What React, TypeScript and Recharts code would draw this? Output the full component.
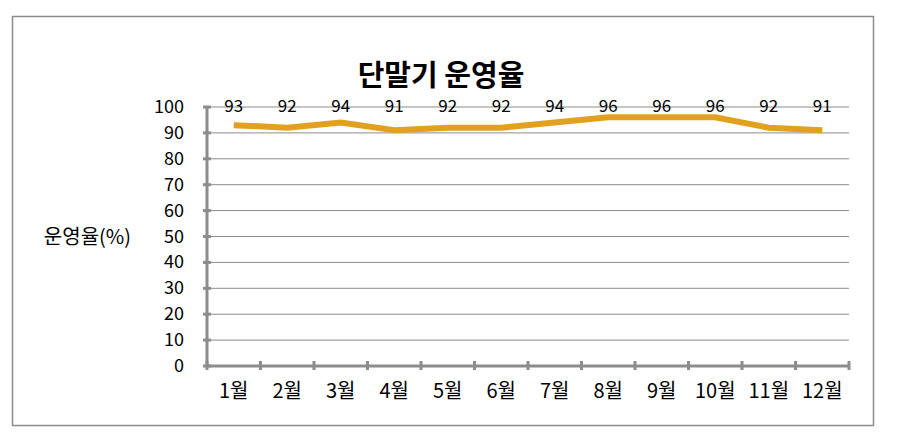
import { LineChart, Line, XAxis, YAxis, CartesianGrid, LabelList } from 'recharts';

const months = ['1월', '2월', '3월', '4월', '5월', '6월', '7월', '8월', '9월', '10월', '11월', '12월'];
const rates = [93, 92, 94, 91, 92, 92, 94, 96, 96, 96, 92, 91];
const yTicks = [0, 10, 20, 30, 40, 50, 60, 70, 80, 90, 100];

const title = '단말기 운영율';
const yLabel = '운영율(%)';

const W = 905;
const H = 432;
const margin = { top: 107, right: 56, bottom: 36, left: 147 };
const yAxisWidth = 60;
const xAxisHeight = 30;
const plotLeft = margin.left + yAxisWidth;
const plotRight = W - margin.right;
const band = (plotRight - plotLeft) / months.length;

const font = '"Noto Sans CJK KR", "Noto Sans", sans-serif';
const axisGray = '#8c8c8c';
const lineColor = '#E1A11F';

const chartData = months.map((m, i) => ({ month: m, rate: rates[i] }));

const XTick = (props: any) => {
  const { x, y, payload, index } = props;
  const left = x - band / 2;
  return (
    <g>
      <line x1={left} x2={left} y1={y - 5} y2={y + 4} stroke={axisGray} strokeWidth={3} />
      {index === months.length - 1 && (
        <line x1={x + band / 2} x2={x + band / 2} y1={y - 5} y2={y + 4} stroke={axisGray} strokeWidth={3} />
      )}
      <text x={x} y={y + 32} textAnchor="middle" fontSize={20} fill="#000" fontFamily={font}>
        {payload.value}
      </text>
    </g>
  );
};

const YTick = (props: any) => {
  const { x, y, payload } = props;
  return (
    <g>
      <line x1={x - 4} x2={x + 4} y1={y} y2={y} stroke={axisGray} strokeWidth={3} />
      <text x={x - 23} y={y + 6} textAnchor="end" fontSize={18} fill="#000" fontFamily={font}>
        {payload.value}
      </text>
    </g>
  );
};

const PointLabel = (props: any) => {
  const { x, value } = props;
  return (
    <text x={x} y={margin.top + 5} textAnchor="middle" fontSize={17} fill="#000" fontFamily={font}>
      {value}
    </text>
  );
};

export default function App() {
  return (
    <div style={{ position: 'absolute', left: 0, top: 0, width: W, height: H, background: '#fff' }}>
      <svg width={W} height={H} style={{ position: 'absolute', left: 0, top: 0 }}>
        <rect x={12.5} y={16.5} width={861} height={409} fill="none" stroke={axisGray} strokeWidth={1.5} />
        <text x={441} y={86} textAnchor="middle" fontSize={29} fontWeight="bold" fill="#000" fontFamily={font}>
          {title}
        </text>
      </svg>
      <div style={{ position: 'absolute', left: 0, top: 0 }}>
        <LineChart width={W} height={H} data={chartData} margin={margin}>
          <CartesianGrid horizontal vertical={false} stroke={axisGray} strokeWidth={1} />
          <XAxis
            dataKey="month"
            height={xAxisHeight}
            interval={0}
            padding={{ left: band / 2, right: band / 2 }}
            axisLine={{ stroke: axisGray, strokeWidth: 3 }}
            tickLine={false}
            tickSize={0}
            tickMargin={0}
            tick={<XTick />}
          />
          <YAxis
            width={yAxisWidth}
            domain={[0, 100]}
            ticks={yTicks}
            interval={0}
            axisLine={{ stroke: axisGray, strokeWidth: 3 }}
            tickLine={false}
            tickSize={0}
            tickMargin={0}
            tick={<YTick />}
            label={{ value: yLabel, position: 'left', offset: 16, fontSize: 20, fill: '#000', fontFamily: font }}
          />
          <Line
            type="linear"
            dataKey="rate"
            stroke={lineColor}
            strokeWidth={6}
            dot={false}
            activeDot={false}
            isAnimationActive={false}
          >
            <LabelList dataKey="rate" content={<PointLabel />} />
          </Line>
        </LineChart>
      </div>
    </div>
  );
}
